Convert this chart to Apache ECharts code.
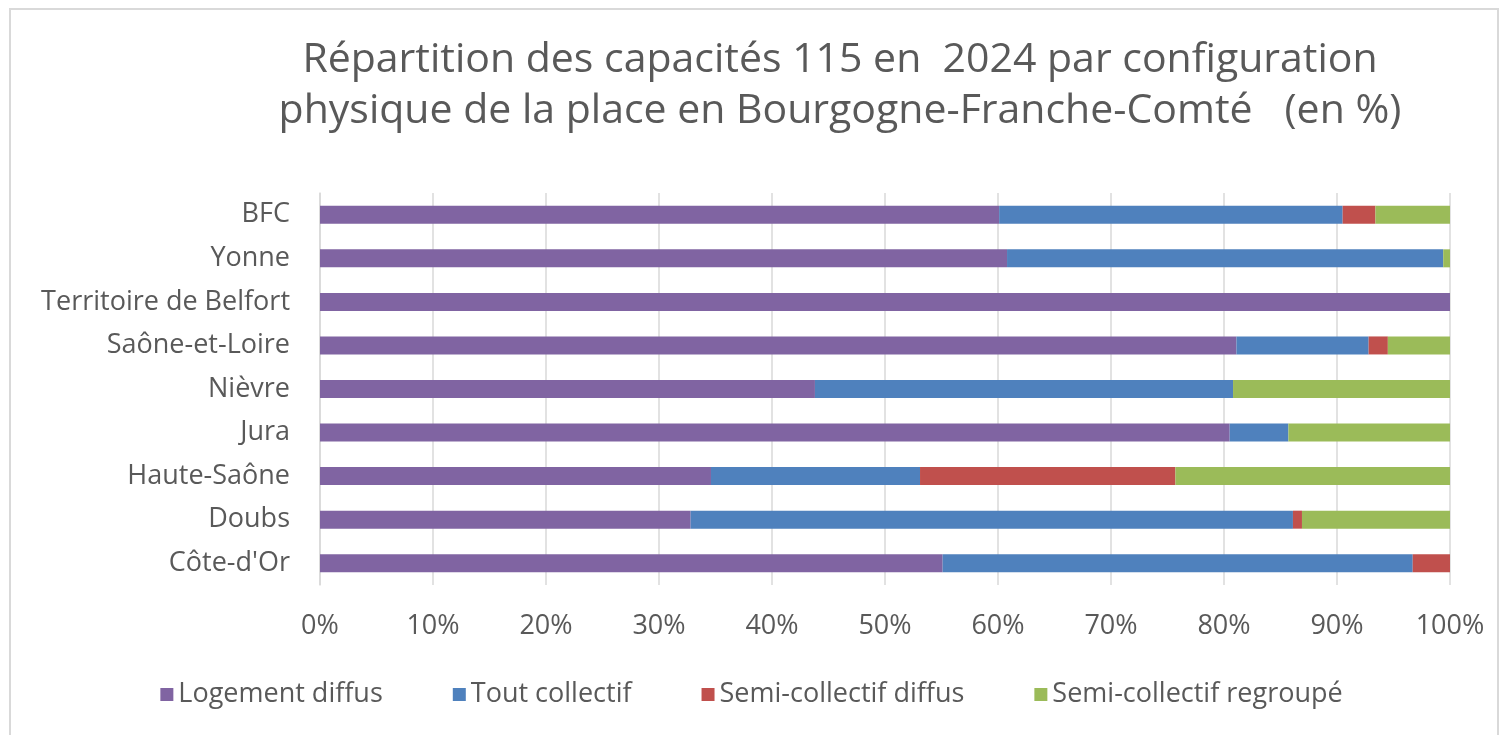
<!DOCTYPE html>
<html>
<head>
<meta charset="utf-8">
<script src="https://cdn.jsdelivr.net/npm/echarts@6/dist/echarts.min.js"></script>
<style>
  html, body { margin: 0; padding: 0; background: #fff; }
  #chart { width: 1503px; height: 735px; }
</style>
</head>
<body>
<div id="chart"></div>
<script>
  // categories listed bottom to top (category axis starts at the bottom)
  var regions = ['Côte-d\'Or', 'Doubs', 'Haute-Saône', 'Jura', 'Nièvre', 'Saône-et-Loire', 'Territoire de Belfort', 'Yonne', 'BFC'];
  var logementDiffus = [55.1, 32.8, 34.6, 80.5, 43.8, 81.1, 100, 60.8, 60.1];
  var toutCollectif = [41.6, 53.3, 18.5, 5.2, 37.0, 11.7, 0, 38.6, 30.4];
  var semiDiffus = [3.3, 0.8, 22.6, 0, 0, 1.7, 0, 0, 2.9];
  var semiRegroupe = [0, 13.1, 24.3, 14.3, 19.2, 5.5, 0, 0.6, 6.6];
  var seriesNames = ['Logement diffus', 'Tout collectif', 'Semi-collectif diffus', 'Semi-collectif regroupé'];
  var colors = ['#8064A2', '#4F81BD', '#C0504D', '#9BBB59'];

  var font = '"Open Sans", "Liberation Sans", sans-serif';
  var myChart = echarts.init(document.getElementById('chart'));

  var allData = [logementDiffus, toutCollectif, semiDiffus, semiRegroupe];
  var series = [];
  for (var i = 0; i < seriesNames.length; i++) {
    series.push({
      name: seriesNames[i],
      type: 'bar',
      stack: 'total',
      barWidth: 18,
      itemStyle: { color: colors[i] },
      data: allData[i]
    });
  }

  myChart.setOption({
    backgroundColor: '#fff',
    animation: false,
    textStyle: { fontFamily: font },
    graphic: [{
      type: 'rect',
      shape: { x: 10, y: 9, width: 1488, height: 740 },
      style: { fill: 'none', stroke: '#d9d9d9', lineWidth: 2 }
    }],
    title: {
      text: 'Répartition des capacités 115 en  2024 par configuration\nphysique de la place en Bourgogne-Franche-Comté   (en %)',
      left: 835,
      top: 30,
      textAlign: 'center',
      textStyle: {
        fontFamily: font,
        fontSize: 41,
        fontWeight: 'normal',
        color: '#595959',
        lineHeight: 51
      }
    },
    legend: {
      data: seriesNames,
      left: 'center',
      top: 676,
      icon: 'rect',
      itemWidth: 13,
      itemHeight: 13,
      itemGap: 70,
      textStyle: { fontFamily: font, fontSize: 27, color: '#595959' }
    },
    grid: {
      left: 320,
      right: 53,
      top: 193,
      height: 392
    },
    xAxis: {
      type: 'value',
      min: 0,
      max: 100,
      interval: 10,
      axisLine: { show: false },
      axisTick: { show: false },
      axisLabel: {
        formatter: '{value}%',
        fontSize: 27,
        color: '#595959',
        margin: 28
      },
      splitLine: { lineStyle: { color: '#d9d9d9', width: 1.5 } }
    },
    yAxis: {
      type: 'category',
      data: regions,
      axisLine: { show: true, lineStyle: { color: '#d9d9d9', width: 1.5 } },
      axisTick: { show: false },
      axisLabel: {
        fontSize: 27,
        color: '#595959',
        margin: 30
      }
    },
    series: series
  });
</script>
</body>
</html>
